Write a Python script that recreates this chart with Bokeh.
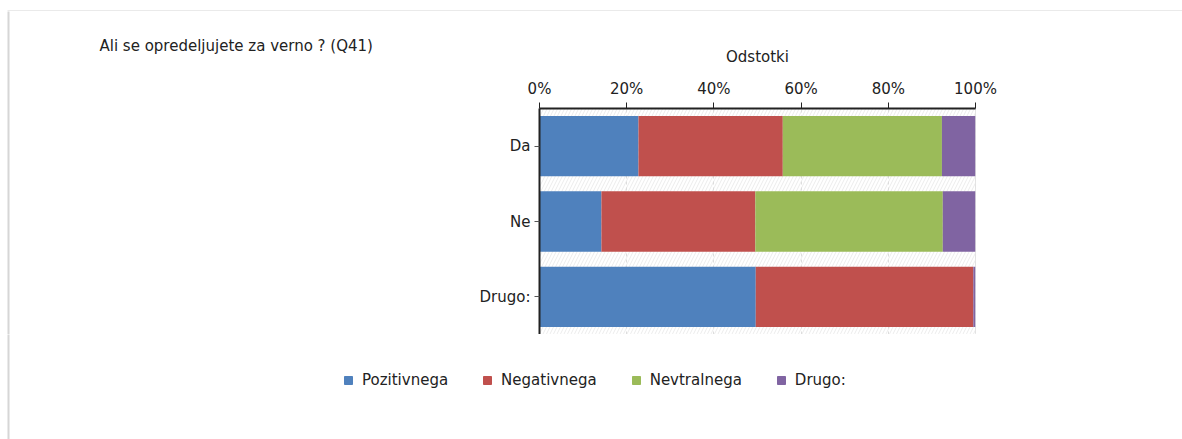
from bokeh.plotting import figure
from bokeh.layouts import column, row
from bokeh.models import (ColumnDataSource, FactorRange, Range1d, Legend, LegendItem,
                          FixedTicker, Label, BoxAnnotation)
from bokeh.embed import file_html
from bokeh.resources import INLINE

categories = ["Da", "Ne", "Drugo:"]
series = ["Pozitivnega", "Negativnega", "Nevtralnega", "Drugo:"]
pozitivnega = [22.7, 14.2, 49.6]
negativnega = [33.1, 35.3, 49.9]
nevtralnega = [36.5, 43.0, 0.0]
drugo = [7.7, 7.5, 0.5]
colors = ["#4f81bd", "#c0504d", "#9bbb59", "#8064a2"]
x_ticks = [0, 20, 40, 60, 80, 100]
x_tick_labels = ["0%", "20%", "40%", "60%", "80%", "100%"]
title_text = "Ali se opredeljujete za verno ? (Q41)"
x_label = "Odstotki"

FONT = "DejaVu Sans"
TXT = "#222222"
BORDER = "#d6d6d6"

W = 1182
TOP_H = 11
MAIN_TOP = 108 - TOP_H
FRAME_H = 226
ROW_H = MAIN_TOP + FRAME_H
LEG_H = 439 - TOP_H - ROW_H
TITLE_W = 460
MAIN_W = W - TITLE_W


def blank(width, height):
    f = figure(width=width, height=height, x_range=Range1d(0, width), y_range=Range1d(0, height),
               x_axis_location=None, y_axis_location=None, min_border=0,
               output_backend="svg", toolbar_location=None)
    f.title.visible = False
    f.grid.visible = False
    f.outline_line_color = None
    f.background_fill_color = "white"
    f.border_fill_color = "white"
    return f


def left_edge(f, height):
    f.add_layout(BoxAnnotation(left=7, right=9, bottom=-10, top=height + 10,
                               fill_color=BORDER, fill_alpha=1, line_color=None))


# top strip with outer frame line
top = blank(W, TOP_H)
top.add_layout(BoxAnnotation(left=7, right=W + 10, bottom=-1, top=2, fill_color=BORDER,
                             fill_alpha=1, line_color=None))

# title area
tfig = blank(TITLE_W, ROW_H)
left_edge(tfig, ROW_H)
tfig.add_layout(Label(x=99, y=ROW_H - 34, text=title_text, text_font=FONT,
                      text_font_size="15px", text_color=TXT,
                      text_baseline="middle", text_align="left"))

# main chart
source = ColumnDataSource(data=dict(
    cat=categories, s0=pozitivnega, s1=negativnega, s2=nevtralnega, s3=drugo))

p = figure(y_range=FactorRange(*reversed(categories)), x_range=Range1d(0, 100),
           width=MAIN_W, height=ROW_H, output_backend="svg", toolbar_location=None,
           x_axis_location="above",
           min_border_left=539 - TITLE_W, min_border_right=W - 975,
           min_border_top=MAIN_TOP, min_border_bottom=0)
p.title.visible = False
p.outline_line_color = "#d9d9d9"
p.background_fill_color = "white"
p.border_fill_color = "white"

p.add_layout(BoxAnnotation(fill_color="white", fill_alpha=1.0, line_color=None,
                           hatch_pattern="/", hatch_color="#ececec", hatch_scale=7,
                           hatch_weight=1, level="image"))

renderers = p.hbar_stack(["s0", "s1", "s2", "s3"], y="cat", height=0.8, source=source,
                         color=colors, line_width=0)

p.xgrid.ticker = FixedTicker(ticks=x_ticks)
p.xgrid.grid_line_color = "#dddddd"
p.xgrid.grid_line_dash = "3 3"
p.ygrid.grid_line_color = None

xa = p.xaxis[0]
xa.ticker = FixedTicker(ticks=x_ticks)
xa.major_label_overrides = {t: l for t, l in zip(x_ticks, x_tick_labels)}
xa.axis_label = x_label
xa.axis_label_text_font_style = "normal"
xa.axis_label_text_font = FONT
xa.axis_label_text_font_size = "15px"
xa.axis_label_text_color = TXT
xa.axis_label_standoff = 11
xa.major_label_text_font = FONT
xa.major_label_text_font_size = "15px"
xa.major_label_text_color = TXT
xa.major_label_standoff = 5
xa.major_tick_out = 6
xa.major_tick_in = 0
xa.minor_tick_line_color = None
xa.axis_line_color = "#222222"
xa.axis_line_width = 2
xa.major_tick_line_color = "#222222"

ya = p.yaxis[0]
ya.major_label_text_font = FONT
ya.major_label_text_font_size = "15px"
ya.major_label_text_color = TXT
ya.major_tick_out = 5
ya.major_tick_in = 0
ya.major_label_standoff = 4
ya.axis_line_color = "#222222"
ya.axis_line_width = 2
ya.major_tick_line_color = "#555555"

# legend area (swatch renderers hold one point placed outside the visible range)
lfig = blank(W, LEG_H)
left_edge(lfig, LEG_H)
swatches = [lfig.hbar(y=[-100], left=[0], right=[1], height=1, color=c) for c in colors]
legend = Legend(items=[LegendItem(label=s, renderers=[r]) for s, r in zip(series, swatches)],
                orientation="horizontal", location=(343, LEG_H - 45 - 10),
                glyph_width=10, glyph_height=10, label_standoff=9, spacing=34,
                padding=0, margin=0, border_line_color=None, background_fill_alpha=0,
                label_text_font=FONT, label_text_font_size="15px", label_text_color=TXT,
                label_height=16)
lfig.add_layout(legend, "center")

layout = column(top, row(column(tfig), column(p), spacing=0), lfig, spacing=0)
open("out.html", "w").write(file_html(layout, INLINE))
